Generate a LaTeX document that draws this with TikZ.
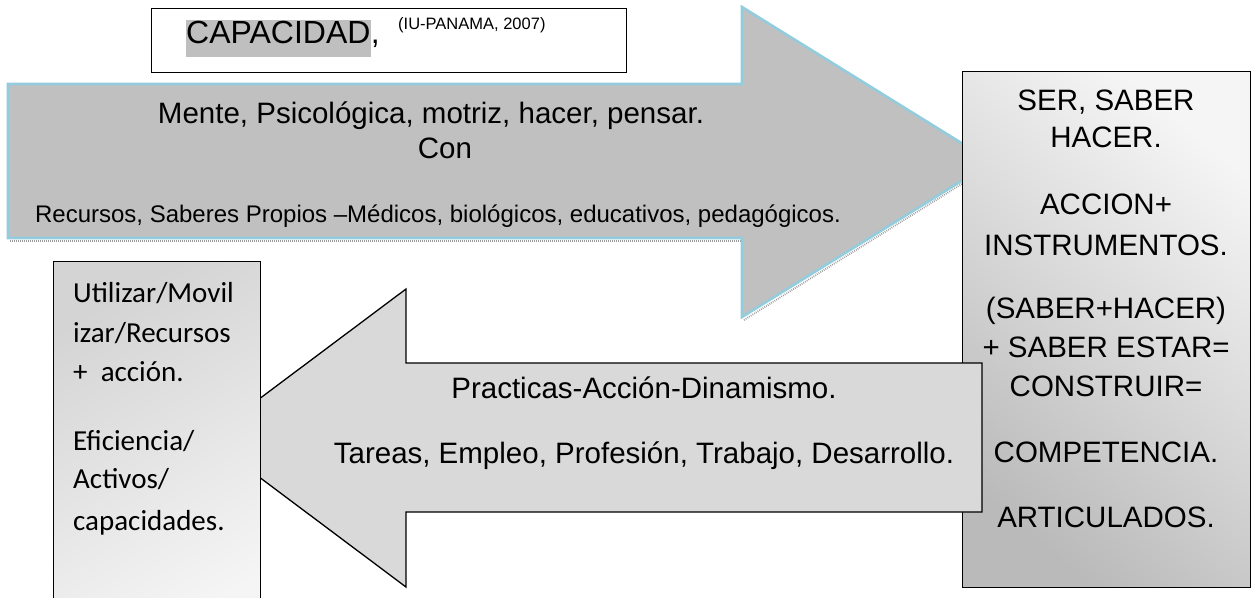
\documentclass[tikz,border=0pt]{standalone}
\usepackage{fontspec}
\setmainfont{Liberation Sans}
\newfontfamily\calibrifont{Carlito}
\definecolor{edgeblue}{HTML}{93CDDD}
\definecolor{fwdgray}{HTML}{C0C0C0}
\definecolor{backgray}{HTML}{D9D9D9}
\tikzset{fwdarrow/.style={fill=fwdgray,draw=edgeblue,line width=2.6pt,line join=miter},
  hatchline/.style={draw=black!40,line width=1.8pt,dash pattern=on 0.8pt off 1.2pt},
  backarrow/.style={fill=backgray,draw=black,line width=1.3pt,line join=miter},
  panel/.style={draw=black,line width=1.3pt,inner sep=0pt,anchor=north west},
  bigtext/.style={font=\fontsize{29.5}{35}\selectfont,anchor=base,inner sep=0pt},
  sidetext/.style={font=\calibrifont\fontsize{29}{35}\selectfont,anchor=base west,inner sep=0pt}}

\begin{document}
\begin{tikzpicture}[x=1pt,y=-1pt]
  \useasboundingbox (0,0) rectangle (1252,597);
  % forward arrow
  \draw[hatchline] (10,241) -- (742,241);
  \draw[hatchline] (744,320) -- (992,165);
  \draw[fwdarrow] (8,84) -- (742,84) -- (742,7) -- (992,162) -- (742,317) -- (742,238) -- (8,238) -- cycle;
  \node[bigtext] (mente) at (431,123) {Mente, Psicológica, motriz, hacer, pensar.};
  \node[bigtext] (con) at (445,158) {Con};
  \node[bigtext,font=\fontsize{24}{29}\selectfont] (recursos) at (438,222) {Recursos, Saberes Propios –Médicos, biológicos, educativos, pedagógicos.};
  % title
  \node[panel,minimum width=475pt,minimum height=64pt] (titlebox) at (151,8) {};
  \node[fill=black!25,inner sep=0pt,text height=23pt,text depth=14pt,font=\fontsize{32}{38}\selectfont,anchor=base west] (capacidad) at (186,43) {CAPACIDAD};
  \node[inner sep=0pt,font=\fontsize{32}{38}\selectfont,anchor=base west] (coma) at (capacidad.base east) {,};
  \node[inner sep=0pt,font=\fontsize{16.5}{20}\selectfont,anchor=base west] (cita) at (398,29) {(IU-PANAMA, 2007)};
  % right panel
  \node[panel,minimum width=288pt,minimum height=516pt,top color=black!4,bottom color=black!27,shading angle=-40] (competencia) at (962,71) {};
  \node[bigtext] (ser) at (1106,110.5) {SER, SABER};
  \node[bigtext] (hacer) at (1106,147.5) {HACER.};
  \node[bigtext] (accion) at (1106,214.5) {ACCION+};
  \node[bigtext] (instr) at (1106,255.5) {INSTRUMENTOS.};
  \node[bigtext] (saberhacer) at (1106,318.5) {(SABER+HACER)};
  \node[bigtext] (estar) at (1106,357.5) {+ SABER ESTAR=};
  \node[bigtext] (construir) at (1106,396.5) {CONSTRUIR=};
  \node[bigtext] (comp) at (1106,462.5) {COMPETENCIA.};
  \node[bigtext] (artic) at (1106,527.5) {ARTICULADOS.};
  % backward arrow
  \draw[backarrow] (982,363) -- (406,363) -- (406,289) -- (207,438) -- (406,587) -- (406,512) -- (982,512) -- cycle;
  \node[bigtext] (practicas) at (644,398.5) {Practicas-Acción-Dinamismo.};
  \node[bigtext] (tareas) at (644,463.5) {Tareas, Empleo, Profesión, Trabajo, Desarrollo.};
  % left panel
  \node[panel,minimum width=207pt,minimum height=380pt,top color=black!17,bottom color=black!4,shading angle=30] (utilizar) at (53,261) {};
  \node[sidetext] (l1) at (73,302) {Utilizar/Movil};
  \node[sidetext] (l2) at (73,342) {izar/Recursos};
  \node[sidetext] (l3) at (73,381) {+\ \ acción.};
  \node[sidetext] (l4) at (73,450) {Eficiencia/};
  \node[sidetext] (l5) at (73,488) {Activos/};
  \node[sidetext] (l6) at (73,530) {capacidades.};
\end{tikzpicture}
\end{document}
